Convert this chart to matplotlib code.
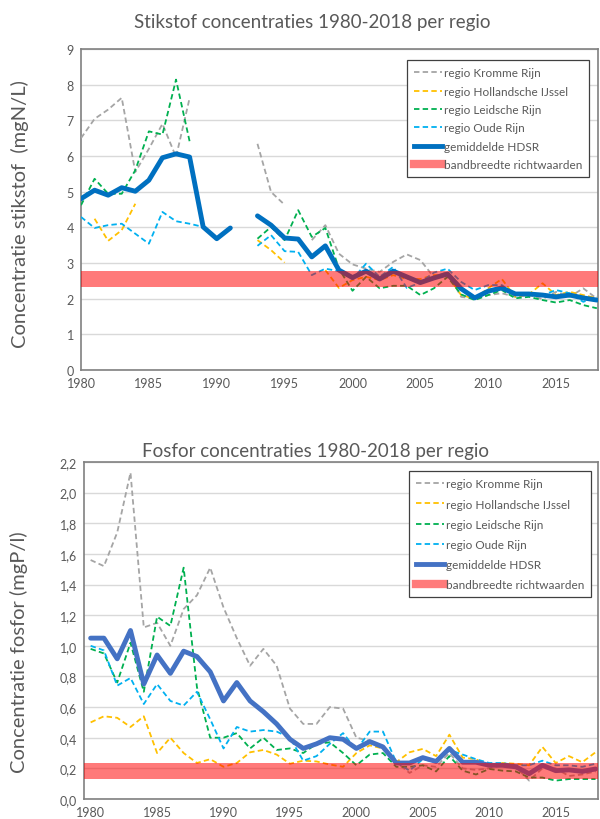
import numpy as np
import matplotlib
matplotlib.use("Agg")
import matplotlib.pyplot as plt
from matplotlib.lines import Line2D
from matplotlib.ticker import FuncFormatter

plt.rcParams['font.family'] = ['Lato', 'DejaVu Sans']

years = list(range(1980, 2019))
labels = ['regio Kromme Rijn', 'regio Hollandsche IJssel', 'regio Leidsche Rijn',
          'regio Oude Rijn', 'gemiddelde HDSR', 'bandbreedte richtwaarden']
nan = None

# stikstof (mgN/L)
n_kromme = [6.5, 7.04, 7.3, 7.63, 5.55, 6.2, 6.9, 5.97, 7.62, nan, nan, nan, nan,
            6.34, 4.99, 4.63, nan, 3.64, 4.06, 3.26, 2.96, 2.84, 2.75, 3.03, 3.24,
            3.08, 2.6, 2.75, 2.05, 2.0, 2.1, 2.15, 2.05, 2.1, 1.99, 2.19, 2.05, 2.29, 2.0]
n_hollandsche = [nan, 4.24, 3.62, 3.92, 4.66, nan, nan, nan, nan, nan, nan, nan, nan,
                 3.64, 3.36, 3.01, nan, nan, 2.8, 2.3, 2.52, 2.61, 2.52, 2.66, 2.55,
                 2.55, 2.66, 2.66, 2.1, 2.0, 2.29, 2.55, 2.05, 2.12, 2.43, 2.1, 2.19, 2.1, 2.01]
n_leidsche = [4.62, 5.36, 4.94, 4.94, 5.6, 6.69, 6.6, 8.14, 6.41, nan, nan, nan, nan,
              3.68, 4.01, 3.64, 4.48, 3.73, 3.98, 2.84, 2.22, 2.61, 2.29, 2.36, 2.36,
              2.1, 2.29, 2.61, 2.12, 1.96, 2.1, 2.24, 2.01, 2.05, 1.96, 1.89, 1.96, 1.82, 1.73]
n_oude = [4.29, 3.98, 4.06, 4.1, 3.82, 3.54, 4.43, 4.17, 4.1, 4.01, nan, nan, nan,
          3.48, 3.78, 3.33, 3.31, 2.66, 2.84, 2.77, 2.55, 2.98, 2.61, 2.89, 2.3,
          2.45, 2.73, 2.84, 2.47, 2.24, 2.38, 2.38, 2.1, 2.15, 2.1, 2.24, 2.15, 1.91, 2.05]
n_gem = [4.8, 5.04, 4.9, 5.11, 5.01, 5.32, 5.95, 6.06, 5.97, 4.01, 3.68, 3.98, nan,
         4.32, 4.06, 3.7, 3.67, 3.17, 3.48, 2.8, 2.59, 2.77, 2.55, 2.77, 2.61,
         2.45, 2.58, 2.69, 2.28, 2.02, 2.21, 2.3, 2.13, 2.13, 2.1, 2.05, 2.1, 2.02, 1.96]
n_band = (2.33, 2.78)

# fosfor (mgP/l)
p_kromme = [1.56, 1.52, 1.74, 2.13, 1.12, 1.15, 1.0, 1.24, 1.33, 1.51,
            1.25, 1.05, 0.87, 0.98, 0.87, 0.59, 0.49, 0.49, 0.6, 0.59,
            0.4, 0.38, 0.34, 0.24, 0.17, 0.22, 0.21, 0.3, 0.2, 0.19,
            0.2, 0.22, 0.21, 0.12, 0.2, 0.2, 0.15, 0.16, 0.18]
p_hollandsche = [0.5, 0.54, 0.53, 0.47, 0.54, 0.3, 0.4, 0.3, 0.235, 0.26,
                 0.21, 0.235, 0.305, 0.32, 0.29, 0.23, 0.25, 0.245, 0.225, 0.21,
                 0.3, 0.35, 0.33, 0.24, 0.305, 0.327, 0.28, 0.42, 0.27, 0.26,
                 0.21, 0.235, 0.23, 0.22, 0.34, 0.235, 0.28, 0.24, 0.305]
p_leidsche = [0.98, 0.95, 0.76, 1.02, 0.7, 1.19, 1.13, 1.51, 0.73, 0.4,
              0.4, 0.43, 0.33, 0.4, 0.32, 0.33, 0.3, 0.36, 0.37, 0.3,
              0.22, 0.29, 0.3, 0.21, 0.21, 0.22, 0.18, 0.28, 0.185, 0.16,
              0.196, 0.185, 0.18, 0.14, 0.14, 0.12, 0.13, 0.13, 0.13]
p_oude = [1.0, 0.97, 0.74, 0.79, 0.62, 0.75, 0.64, 0.61, 0.7, 0.52,
          0.33, 0.47, 0.44, 0.45, 0.44, 0.4, 0.25, 0.28, 0.36, 0.43,
          0.32, 0.44, 0.44, 0.24, 0.185, 0.26, 0.24, 0.32, 0.29, 0.26,
          0.235, 0.235, 0.22, 0.22, 0.25, 0.22, 0.22, 0.21, 0.23]
p_gem = [1.05, 1.05, 0.915, 1.1, 0.75, 0.94, 0.82, 0.965, 0.93, 0.83,
         0.64, 0.76, 0.64, 0.57, 0.49, 0.39, 0.33, 0.36, 0.4, 0.39,
         0.33, 0.375, 0.34, 0.235, 0.235, 0.27, 0.245, 0.33, 0.24, 0.24,
         0.22, 0.22, 0.21, 0.165, 0.22, 0.185, 0.19, 0.18, 0.196]
p_band = (0.13, 0.235)

grey_txt = '#595959'
region_colors = ['#a5a5a5', '#ffc000', '#00b050', '#00b0f0']
band_color = 'red'


def arr(v):
    return np.array([np.nan if x is None else x for x in v], dtype=float)


def draw(ax, regions, gem, gem_color, band, title, title_x, title_pad,
         ylabel, yticks, fmt, xlim):
    for vals, c in zip(regions, region_colors):
        ax.plot(years, arr(vals), color=c, lw=1.3, ls=(0, (3, 1.8)), zorder=3)
    ax.plot(years, arr(gem), color=gem_color, lw=3.5, zorder=4,
            solid_joinstyle='round', solid_capstyle='round')
    ax.axhspan(band[0], band[1], color=band_color, alpha=0.52, lw=0, zorder=5)
    ax.set_xlim(*xlim)
    ax.set_ylim(yticks[0], yticks[-1])
    ax.set_yticks(yticks)
    ax.yaxis.set_major_formatter(FuncFormatter(fmt))
    ax.set_xticks(range(1980, 2019, 5))
    ax.grid(axis='y', color='#d9d9d9', lw=1)
    ax.set_axisbelow(True)
    ax.tick_params(length=0, labelsize=9, colors=grey_txt, pad=5)
    for s in ax.spines.values():
        s.set_color('#808080')
        s.set_linewidth(1.2)
    ax.set_title(title, fontsize=13.5, color=grey_txt, x=title_x, pad=title_pad)
    ax.set_ylabel(ylabel, fontsize=14.5, color=grey_txt)
    handles = [Line2D([], [], color=c, lw=1.3, ls=(0, (3, 1.8))) for c in region_colors]
    handles.append(Line2D([], [], color=gem_color, lw=3.5))
    handles.append(Line2D([], [], color='#ff7b7b', lw=6))
    return handles


fig = plt.figure(figsize=(6, 8.2), dpi=100)

ax1 = fig.add_axes([0.135, 0.5476, 0.862, 0.3915])
h1 = draw(ax1, [n_kromme, n_hollandsche, n_leidsche, n_oude], n_gem, '#0070c0', n_band,
          'Stikstof concentraties 1980-2018 per regio', 0.447, 16,
          'Concentratie stikstof  (mgN/L)',
          list(range(0, 10)), lambda v, p: f'{v:.0f}', (1980, 2018.1))
ax1.yaxis.set_label_coords(-0.10, 0.49)
ax1.legend(h1, labels, loc='upper right', bbox_to_anchor=(0.994, 0.983), fontsize=8.5,
           labelcolor=grey_txt, frameon=True, fancybox=False, edgecolor='#404040',
           framealpha=1, handlelength=2.4, handletextpad=0.15, labelspacing=0.62,
           borderpad=0.6).get_frame().set_linewidth(0.9)

ax2 = fig.add_axes([0.14, 0.0244, 0.857, 0.411])
p_ticks = [round(0.2 * i, 1) for i in range(12)]
h2 = draw(ax2, [p_kromme, p_hollandsche, p_leidsche, p_oude], p_gem, '#4472c4', p_band,
          'Fosfor concentraties 1980-2018 per regio', 0.451, 4,
          'Concentratie fosfor (mgP/l)',
          p_ticks, lambda v, p: f'{v:.1f}'.replace('.', ','), (1979.5, 2018.2))
ax2.yaxis.set_label_coords(-0.108, 0.44)
ax2.legend(h2, labels, loc='upper right', bbox_to_anchor=(0.998, 0.99), fontsize=8.5,
           labelcolor=grey_txt, frameon=True, fancybox=False, edgecolor='#404040',
           framealpha=1, handlelength=2.4, handletextpad=0.15, labelspacing=0.78,
           borderpad=0.6).get_frame().set_linewidth(0.9)

fig.savefig('out.png', dpi=100)
